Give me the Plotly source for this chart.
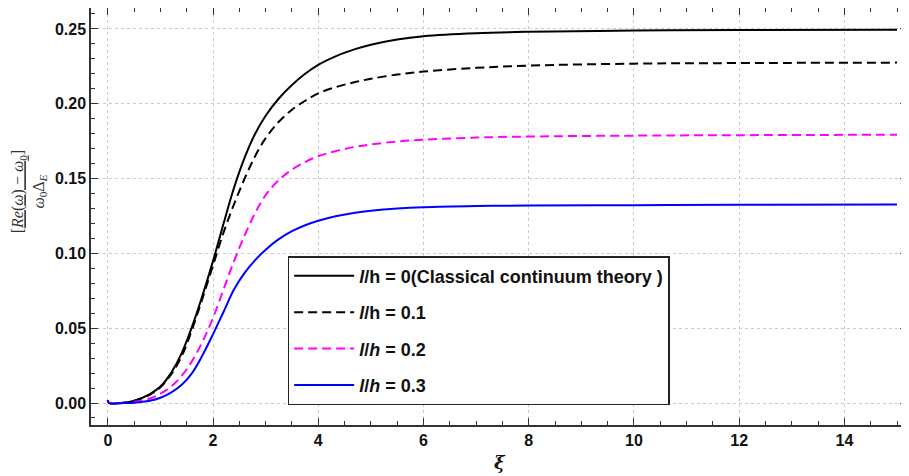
import plotly.graph_objects as go

xi = [0, 0.02, 0.3, 0.5, 0.8, 1.0, 1.2, 1.4, 1.6, 1.8, 2.0, 2.2, 2.4, 2.6, 2.8, 3.0,
      3.25, 3.5, 3.75, 4.0, 4.35, 4.7, 5.0, 5.5, 6.0, 7.0, 8.0, 10.0, 12.0, 15.0]

y_classical = [0.002, 0.0, 0.0002, 0.0015, 0.006, 0.011, 0.020, 0.033, 0.051, 0.072, 0.095,
               0.120, 0.144, 0.164, 0.180, 0.192, 0.2035, 0.2125, 0.2200, 0.2260, 0.2320,
               0.2365, 0.2395, 0.2430, 0.2452, 0.2472, 0.2481, 0.2489, 0.2493, 0.2495]
y_01 = [0.002, 0.0, 0.0002, 0.0014, 0.0056, 0.0105, 0.019, 0.031, 0.049, 0.070, 0.092,
        0.114, 0.133, 0.150, 0.165, 0.177, 0.188, 0.196, 0.202, 0.207, 0.2113, 0.2145,
        0.2167, 0.2195, 0.2215, 0.2240, 0.2255, 0.2268, 0.2272, 0.2275]
y_02 = [0.002, 0.0, 0.0001, 0.0008, 0.003, 0.0062, 0.011, 0.018, 0.028, 0.041, 0.057,
        0.076, 0.095, 0.112, 0.127, 0.139, 0.149, 0.156, 0.161, 0.165, 0.1685, 0.1712,
        0.1728, 0.1748, 0.1760, 0.1774, 0.1781, 0.1787, 0.1790, 0.1793]
y_03 = [0.002, 0.0, 0.0, 0.0002, 0.0015, 0.0035, 0.007, 0.012, 0.020, 0.032, 0.046,
        0.061, 0.076, 0.087, 0.0955, 0.1025, 0.1095, 0.1148, 0.1188, 0.1218, 0.1250,
        0.1272, 0.1285, 0.1300, 0.1309, 0.1317, 0.1320, 0.1322, 0.1325, 0.1327]

names = [
    "<i>l</i>/h = 0(Classical continuum theory )",
    "<i>l</i>/h = 0.1",
    "<i>l</i>/<i>h</i> = 0.2",
    "<i>l</i>/<i>h</i> = 0.3",
]
series = [y_classical, y_01, y_02, y_03]
colors = ["#000000", "#000000", "#FF00FF", "#0000FF"]
dashes = ["solid", "9px,5px", "9px,5px", "solid"]

fig = go.Figure()
for i, (ys, nm, c, d) in enumerate(zip(series, names, colors, dashes)):
    fig.add_trace(go.Scatter(x=xi, y=ys, mode="lines", name=nm, legendgroup=f"g{i}",
                             line=dict(color=c, width=2, dash=d, shape="spline", smoothing=1.0)))

axis_common = dict(
    showline=True, linecolor="#333333", linewidth=1.5, mirror="ticks",
    ticks="inside", ticklen=7, tickwidth=1.2, tickcolor="#333333",
    showgrid=True, gridcolor="#cccccc", griddash="dot", gridwidth=1,
    zeroline=False, automargin=False,
    tickfont=dict(family="Liberation Sans", size=16, color="#111111", weight="bold"),
)

fig.update_xaxes(range=[-0.32, 15.19], dtick=2, tick0=0,
                 minor=dict(dtick=0.5, ticks="inside", ticklen=4, tickcolor="#333333"),
                 **axis_common)
fig.update_yaxes(range=[-0.0147, 0.264], dtick=0.05, tick0=0, tickformat=".2f",
                 minor=dict(dtick=0.01, ticks="inside", ticklen=4, tickcolor="#333333"),
                 **axis_common)

fig.add_annotation(
    xref="paper", yref="paper", x=-0.075, y=0.56, xanchor="center", yanchor="middle",
    textangle=-90, showarrow=False,
    text="<u>[<i>Re</i>(<i>ω</i>) − <i>ω</i><sub>0</sub>]</u><br><i>ω</i><sub>0</sub>Δ<sub><i>E</i></sub>",
    font=dict(family="Liberation Serif", size=16, color="#333333"),
)
fig.add_annotation(
    xref="paper", yref="paper", x=0.501, y=-0.089, xanchor="center", yanchor="middle",
    showarrow=False, text="<b><i>ξ</i></b>",
    font=dict(family="DejaVu Serif", size=18, color="#111111"),
)

fig.update_layout(
    width=901, height=468,
    margin=dict(l=83, r=2, t=0, b=51),
    plot_bgcolor="white", paper_bgcolor="white",
    showlegend=True,
    legend=dict(x=0.241, y=0.405, xanchor="left", yanchor="top",
                bordercolor="#222222", borderwidth=1.5, bgcolor="white",
                traceorder="grouped", tracegroupgap=10,
                font=dict(family="Liberation Sans", size=18, color="#111111", weight="bold"),
                itemwidth=60),
)

fig.write_html("out.html")
